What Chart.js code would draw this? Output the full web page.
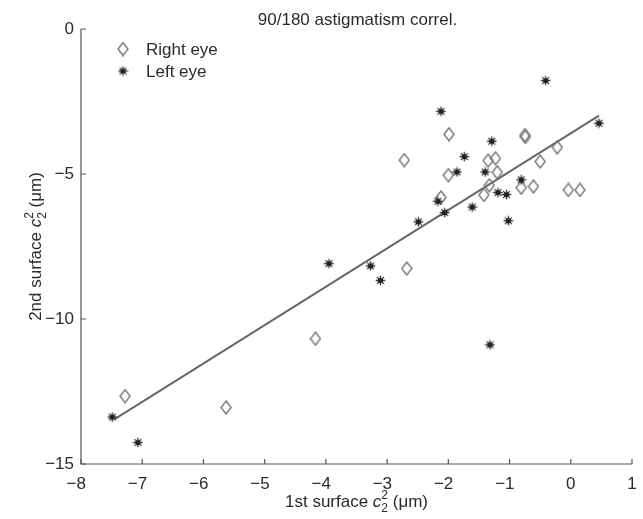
<!DOCTYPE html>
<html>
<head>
<meta charset="utf-8">
<script src="https://cdn.jsdelivr.net/npm/chart.js@4"></script>
<style>
  html, body { margin: 0; padding: 0; background: #fff; }
  #wrap { width: 643px; height: 519px; }
</style>
</head>
<body>
<div id="wrap"><canvas id="myChart" width="643" height="519"></canvas></div>
<script>
const rightX = [-2.72, -1.99, -0.75, -0.74, -0.22, -0.50, -1.35, -1.23, -1.20, -2.00, -1.33, -1.42, -0.81, -0.61, -0.04, 0.15, -2.12, -2.68, -4.17, -5.63, -7.28];
const rightY = [-4.52, -3.63, -3.66, -3.72, -4.08, -4.57, -4.54, -4.46, -4.94, -5.04, -5.39, -5.72, -5.47, -5.43, -5.55, -5.55, -5.81, -8.26, -10.68, -13.05, -12.66];

const leftX = [-0.41, -2.12, 0.46, -1.29, -1.74, -1.86, -1.40, -0.81, -2.17, -2.06, -1.19, -1.05, -1.61, -1.02, -2.49, -3.95, -3.27, -3.11, -1.32, -7.49, -7.07];
const leftY = [-1.78, -2.84, -3.25, -3.87, -4.40, -4.93, -4.93, -5.20, -5.94, -6.33, -5.64, -5.71, -6.14, -6.61, -6.65, -8.09, -8.17, -8.67, -10.89, -13.38, -14.26];

// regression line end points
const fitX = [-7.45, 0.46];
const fitY = [-13.45, -2.99];

const xTicks = [-8, -7, -6, -5, -4, -3, -2, -1, 0, 1];
const yTicks = [0, -5, -10, -15];

const FONT = "'Liberation Sans', Arial, sans-serif";
const TEXT = '#2b2b2b';
const AXIS = '#555';

function pairs(xs, ys) {
    return xs.map((x, i) => ({ x: x, y: ys[i] }));
}

// open diamond marker
function diamondMarker() {
    const c = document.createElement('canvas');
    c.width = 12; c.height = 15;
    const g = c.getContext('2d');
    g.strokeStyle = '#777';
    g.lineWidth = 1.4;
    g.beginPath();
    g.moveTo(6, 1); g.lineTo(11, 7.5); g.lineTo(6, 14); g.lineTo(1, 7.5);
    g.closePath();
    g.stroke();
    return c;
}

// dark asterisk marker
function starMarker() {
    const c = document.createElement('canvas');
    c.width = 11; c.height = 11;
    const g = c.getContext('2d');
    g.strokeStyle = '#333';
    g.lineWidth = 1.3;
    g.beginPath();
    for (let k = 0; k < 4; k++) {
        const a = k * Math.PI / 4;
        g.moveTo(5.5 + Math.cos(a) * 4.8, 5.5 + Math.sin(a) * 4.8);
        g.lineTo(5.5 - Math.cos(a) * 4.8, 5.5 - Math.sin(a) * 4.8);
    }
    g.stroke();
    g.fillStyle = '#222';
    g.beginPath();
    g.arc(5.5, 5.5, 2.6, 0, Math.PI * 2);
    g.fill();
    return c;
}

const diamond = diamondMarker();
const star = starMarker();

// negative x labels keep the digit over the tick, the minus hangs left
function xLabel(v) {
    return v < 0 ? '\u2212' + Math.abs(v) + '\u2007' : String(v);
}

function yLabel(v) {
    return v < 0 ? '\u2212' + Math.abs(v) : String(v);
}

// draws "<pre> c₂² (μm)" with stacked super/subscript
function drawAxisTitle(ctx, pre, cx, cy) {
    ctx.font = '17px ' + FONT;
    const w1 = ctx.measureText(pre).width;
    ctx.font = 'italic 17px ' + FONT;
    const wc = ctx.measureText('c').width;
    ctx.font = '12px ' + FONT;
    const ws = ctx.measureText('2').width;
    ctx.font = '17px ' + FONT;
    const w3 = ctx.measureText(' (\u03bcm)').width;
    const total = w1 + wc + ws + w3;
    let x = cx - total / 2;
    ctx.textBaseline = 'alphabetic';
    ctx.textAlign = 'left';
    ctx.font = '17px ' + FONT;
    ctx.fillText(pre, x, cy);
    x += w1;
    ctx.font = 'italic 17px ' + FONT;
    ctx.fillText('c', x, cy);
    x += wc;
    ctx.font = '12px ' + FONT;
    ctx.fillText('2', x, cy - 8);
    ctx.fillText('2', x, cy + 5);
    x += ws;
    ctx.font = '17px ' + FONT;
    ctx.fillText(' (\u03bcm)', x, cy);
}

const decorations = {
    id: 'decorations',
    afterDraw(chart) {
        const ctx = chart.ctx;
        const xs = chart.scales.x;
        const ys = chart.scales.y;
        const area = chart.chartArea;
        ctx.save();

        // axis lines, left and bottom only
        ctx.strokeStyle = AXIS;
        ctx.lineWidth = 1.2;
        ctx.beginPath();
        ctx.moveTo(area.left, area.top);
        ctx.lineTo(area.left, area.bottom);
        ctx.lineTo(area.right, area.bottom);
        ctx.stroke();

        // inward tick marks
        ctx.beginPath();
        xTicks.forEach(v => {
            const px = xs.getPixelForValue(v);
            ctx.moveTo(px, area.bottom);
            ctx.lineTo(px, area.bottom - 5);
        });
        yTicks.forEach(v => {
            const py = ys.getPixelForValue(v);
            ctx.moveTo(area.left, py);
            ctx.lineTo(area.left + 5, py);
        });
        ctx.stroke();

        ctx.fillStyle = TEXT;
        ctx.font = '17px ' + FONT;
        ctx.textAlign = 'center';
        ctx.textBaseline = 'alphabetic';
        ctx.fillText('90/180 astigmatism correl.', (area.left + area.right) / 2 + 1, 25);

        // legend
        const legend = [[diamond, 'Right eye', 49], [star, 'Left eye', 71]];
        ctx.textAlign = 'left';
        ctx.textBaseline = 'middle';
        ctx.font = '17px ' + FONT;
        legend.forEach(([img, text, y]) => {
            ctx.drawImage(img, 123 - img.width / 2, y - img.height / 2);
            ctx.fillText(text, 146, y + 1);
        });

        drawAxisTitle(ctx, '1st surface ', (area.left + area.right) / 2, 507);

        ctx.translate(41, (area.top + area.bottom) / 2);
        ctx.rotate(-Math.PI / 2);
        drawAxisTitle(ctx, '2nd surface ', 0, 0);
        ctx.restore();
    }
};

const ctx = document.getElementById('myChart').getContext('2d');

const data = {
    datasets: [
        {
            label: 'Right eye',
            data: pairs(rightX, rightY),
            pointStyle: diamond,
            pointRadius: 6,
            showLine: false,
            order: 2
        },
        {
            label: 'Left eye',
            data: pairs(leftX, leftY),
            pointStyle: star,
            pointRadius: 5,
            showLine: false,
            order: 1
        },
        {
            label: 'fit',
            type: 'line',
            data: pairs(fitX, fitY),
            borderColor: '#666',
            borderWidth: 2,
            pointRadius: 0,
            fill: false,
            order: 3
        }
    ]
};

const config = {
    type: 'scatter',
    data: data,
    options: {
        responsive: false,
        animation: false,
        layout: {
            padding: { top: 29, right: 11, left: 0, bottom: 0 }
        },
        scales: {
            x: {
                type: 'linear',
                min: -8,
                max: 1,
                grid: { display: false, drawTicks: false },
                border: { display: false },
                afterBuildTicks: axis => { axis.ticks = xTicks.map(v => ({ value: v })); },
                afterFit: axis => {
                    axis.height = 55;
                    axis.paddingLeft = 0;
                    axis.paddingRight = 0;
                },
                ticks: {
                    color: TEXT,
                    padding: 10,
                    maxRotation: 0,
                    autoSkip: false,
                    font: { family: FONT, size: 17 },
                    callback: v => xLabel(v)
                }
            },
            y: {
                type: 'linear',
                min: -15,
                max: 0,
                grid: { display: false, drawTicks: false },
                border: { display: false },
                afterBuildTicks: axis => { axis.ticks = yTicks.map(v => ({ value: v })); },
                afterFit: axis => {
                    axis.width = 81;
                    axis.paddingTop = 0;
                    axis.paddingBottom = 0;
                },
                ticks: {
                    color: TEXT,
                    padding: 7,
                    font: { family: FONT, size: 17 },
                    callback: v => yLabel(v)
                }
            }
        },
        plugins: {
            title: { display: false },
            tooltip: { enabled: false },
            legend: { display: false }
        }
    },
    plugins: [decorations]
};

const myChart = new Chart(ctx, config);
</script>
</body>
</html>
